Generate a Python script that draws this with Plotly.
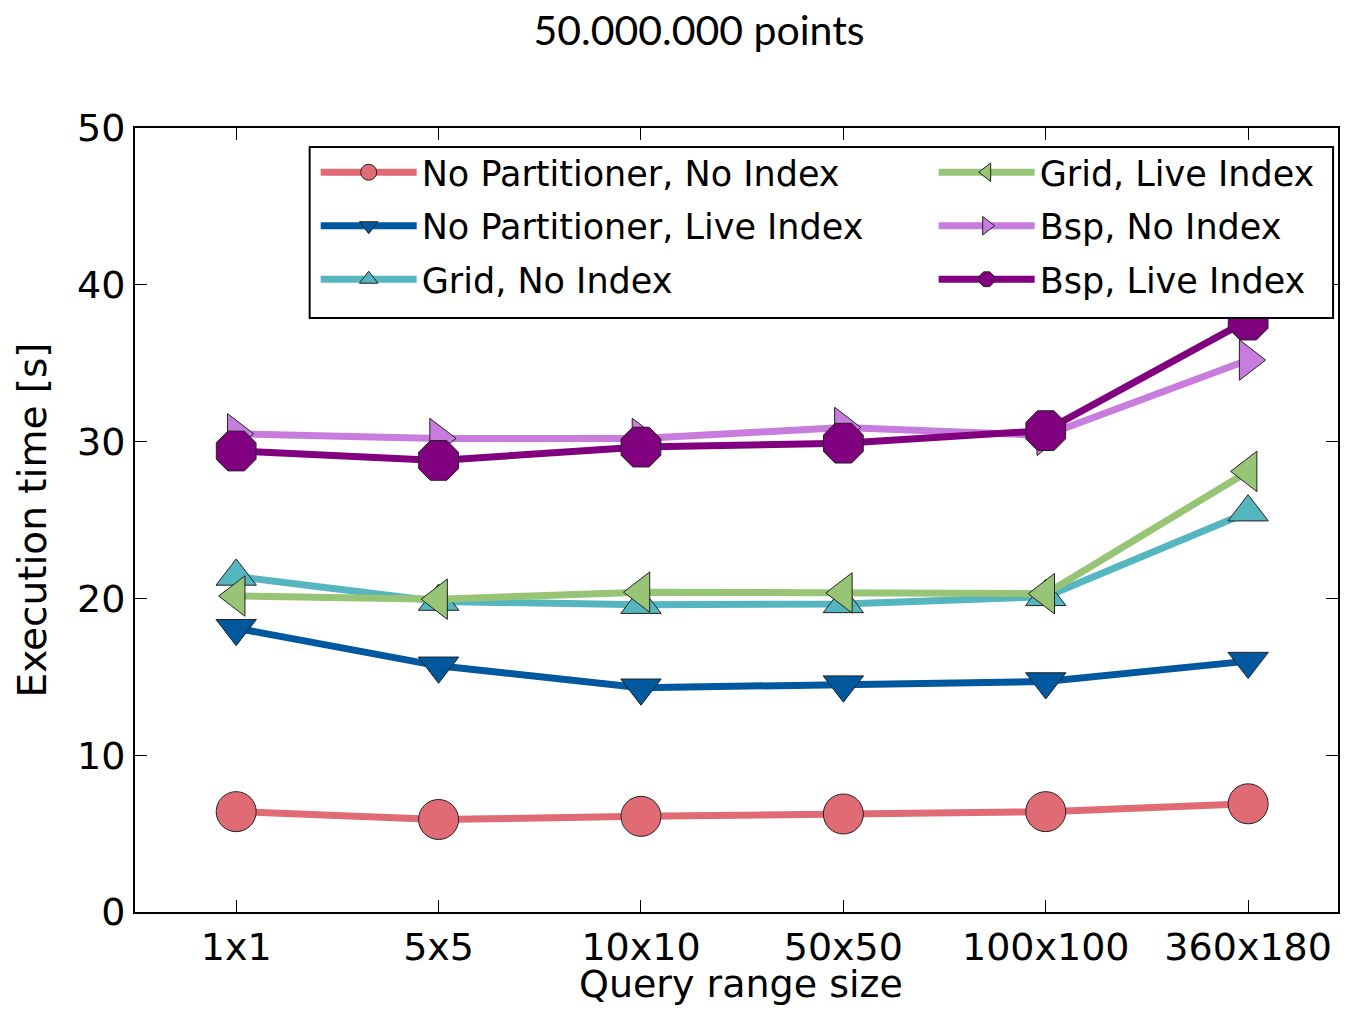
import plotly.graph_objects as go

categories = ["1x1", "5x5", "10x10", "50x50", "100x100", "360x180"]

np_no_index = [6.4, 5.9, 6.1, 6.25, 6.4, 6.9]
np_live_index = [18.1, 15.7, 14.3, 14.5, 14.7, 16.0]
grid_no_index = [21.4, 19.8, 19.6, 19.65, 20.1, 25.5]
grid_live_index = [20.15, 19.95, 20.4, 20.35, 20.3, 28.1]
bsp_no_index = [30.5, 30.2, 30.2, 30.9, 30.4, 35.2]
bsp_live_index = [29.4, 28.8, 29.65, 29.9, 30.7, 37.75]

series = [
    ("No Partitioner, No Index", np_no_index, "#e06b74", "circle", 40, "legend"),
    ("No Partitioner, Live Index", np_live_index, "#00589e", "triangle-down", 35, "legend"),
    ("Grid, No Index", grid_no_index, "#55b6c0", "triangle-up", 35, "legend"),
    ("Grid, Live Index", grid_live_index, "#98c476", "triangle-left", 35, "legend2"),
    ("Bsp, No Index", bsp_no_index, "#c77cde", "triangle-right", 35, "legend2"),
    ("Bsp, Live Index", bsp_live_index, "#800080", "octagon", 43, "legend2"),
]

FONT = "DejaVu Sans"
W, H = 1332, 998

fig = go.Figure()
for i, (name, vals, color, sym, size, leg) in enumerate(series):
    fig.add_trace(go.Scatter(
        x=list(range(len(categories))), y=vals, name=name, mode="lines+markers",
        line=dict(color=color, width=7),
        marker=dict(symbol=sym, size=size, color=color,
                    line=dict(color="#222222", width=1)),
        legend=leg, legendgroup="g%d" % i,
    ))

legend_common = dict(
    orientation="v", yanchor="top", xanchor="left", xref="paper", yref="paper",
    bgcolor="rgba(0,0,0,0)", borderwidth=0,
    font=dict(family=FONT, size=35, color="black"),
    itemwidth=96, itemsizing="trace", traceorder="grouped", tracegroupgap=5,
)

fig.update_layout(
    width=W, height=H,
    margin=dict(l=127, r=0, t=120, b=94),
    paper_bgcolor="white", plot_bgcolor="white",
    font=dict(family=FONT, color="black"),
    title=dict(text="50.000.000 points", font=dict(family="Lato", size=41, color="black"),
               x=691 / W, xref="container", xanchor="center",
               y=1 - 23 / H, yref="container", yanchor="middle"),
    showlegend=True,
    legend=dict(x=0.1502, y=0.9809, **legend_common),
    legend2=dict(x=0.6639, y=0.9809, **legend_common),
    shapes=[dict(type="rect", xref="paper", yref="paper",
                 x0=0.1452, x1=0.9959, y0=0.7577, y1=0.9758,
                 fillcolor="white", line=dict(color="black", width=2), layer="above")],
    annotations=[dict(text="Query range size", xref="paper", yref="paper",
                      x=0.5037, y=-0.0918, xanchor="center", yanchor="middle",
                      showarrow=False, font=dict(family=FONT, size=38, color="black"))],
)

fig.update_xaxes(
    range=[-0.5, 5.444], tickmode="array",
    tickvals=list(range(len(categories))), ticktext=categories,
    showline=True, linecolor="black", linewidth=2, mirror="ticks",
    ticks="inside", ticklen=12, tickwidth=1, tickcolor="black",
    showgrid=False, zeroline=False,
    tickfont=dict(family=FONT, size=38, color="black"),
)
fig.update_yaxes(
    range=[0, 50], tickmode="array", tickvals=[0, 10, 20, 30, 40, 50],
    showline=True, linecolor="black", linewidth=2, mirror="ticks",
    ticks="inside", ticklen=12, tickwidth=1, tickcolor="black",
    showgrid=False, zeroline=False,
    tickfont=dict(family=FONT, size=38, color="black"),
    title=dict(text="Execution time [s]", font=dict(family=FONT, size=39, color="black"), standoff=18),
)

fig.write_html("out.html")
